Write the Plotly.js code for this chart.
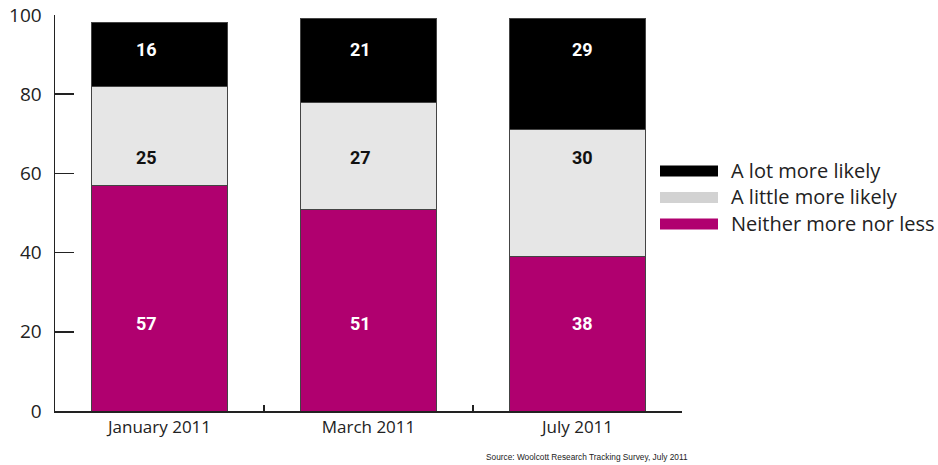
<!DOCTYPE html>
<html>
<head>
<meta charset="utf-8">
<script src="https://cdn.plot.ly/plotly-3.0.1.min.js"></script>
<style>html,body{margin:0;padding:0;background:#fff;}#chart{width:938px;height:465px;}</style>
</head>
<body>
<div id="chart"></div>
<script>
const categories = ['January 2011', 'March 2011', 'July 2011'];
const seriesNames = ['Neither more nor less', 'A little more likely', 'A lot more likely'];
// bar heights as drawn
const neither = [57, 51, 39];
const little = [25, 27, 32];
const lot = [16, 21, 28];
// printed labels
const neitherLabels = ['57', '51', '38'];
const littleLabels = ['25', '27', '30'];
const lotLabels = ['16', '21', '29'];
const yTicks = [0, 20, 40, 60, 80, 100];
const sourceText = 'Source: Woolcott Research Tracking Survey, July 2011';

const colors = ['#B0006F', '#E6E6E6', '#000000'];
const legendColors = ['#B0006F', '#D2D2D2', '#000000'];
const series = [neither, little, lot];
const labels = [neitherLabels, littleLabels, lotLabels];
const labelY = [22, 64, 91.2];
const labelShift = [-13, -8, 5];
const labelColors = ['#ffffff', '#111111', '#ffffff'];

const traces = series.map((vals, i) => ({
  type: 'bar', x: categories, y: vals, name: seriesNames[i],
  marker: {color: colors[i], line: {color: '#444', width: 1}},
  hoverinfo: 'none', showlegend: false
}));

const annotations = [];
labels.forEach((arr, i) => {
  arr.forEach((t, j) => {
    annotations.push({x: categories[j], y: labelY[i], xref: 'x', yref: 'y', xshift: labelShift[j], text: '<b>' + t + '</b>',
      showarrow: false, font: {family: 'Roboto, Liberation Sans, Arial, sans-serif', size: 18, color: labelColors[i]}});
  });
});

// manual legend (top to bottom: lot, little, neither)
const shapes = [];
const px = p => (p - 55) / 627;
const py = p => (411 - p) / 396;
const legRows = [171, 197.5, 224];
[2, 1, 0].forEach((si, r) => {
  shapes.push({type: 'rect', xref: 'paper', yref: 'paper', x0: px(660), x1: px(718),
    y0: py(legRows[r] + 5.5), y1: py(legRows[r] - 5.5), fillcolor: legendColors[si], line: {width: 0}});
  annotations.push({xref: 'paper', yref: 'paper', x: px(729), y: py(legRows[r] - 1), xanchor: 'left', yanchor: 'middle',
    text: seriesNames[si], showarrow: false, font: {family: 'Open Sans, sans-serif', size: 20, color: '#222'}});
});
annotations.push({xref: 'paper', yref: 'paper', x: px(690), y: py(457), xanchor: 'right', yanchor: 'middle',
  text: sourceText, showarrow: false, font: {family: 'Liberation Sans Narrow, Arial Narrow, sans-serif', size: 8.3, color: '#222'}});

const layout = {
  width: 938, height: 465,
  margin: {l: 55, r: 256, t: 15, b: 54},
  paper_bgcolor: '#fff', plot_bgcolor: '#fff',
  barmode: 'stack', bargap: 0.345,
  font: {family: 'Open Sans, sans-serif', color: '#222'},
  xaxis: {type: 'category', showline: true, linecolor: '#222', linewidth: 1.5,
    ticks: 'inside', tickson: 'boundaries', ticklen: 6, tickcolor: '#222', tickwidth: 1.5,
    tickfont: {size: 17, color: '#222'}, showgrid: false, zeroline: false, range: [-0.5, 2.5], fixedrange: true},
  yaxis: {range: [0, 100], tickvals: yTicks, ticktext: yTicks.map(String), showline: true, linecolor: '#222', linewidth: 1.5,
    ticks: 'inside', ticklen: 19, tickcolor: '#222', tickwidth: 1.5, ticklabelstandoff: 8,
    tickfont: {size: 19, color: '#222'}, showgrid: false, zeroline: false, fixedrange: true},
  shapes: shapes, annotations: annotations
};

Plotly.newPlot('chart', traces, layout, {displayModeBar: false, staticPlot: true});
</script>
</body>
</html>
